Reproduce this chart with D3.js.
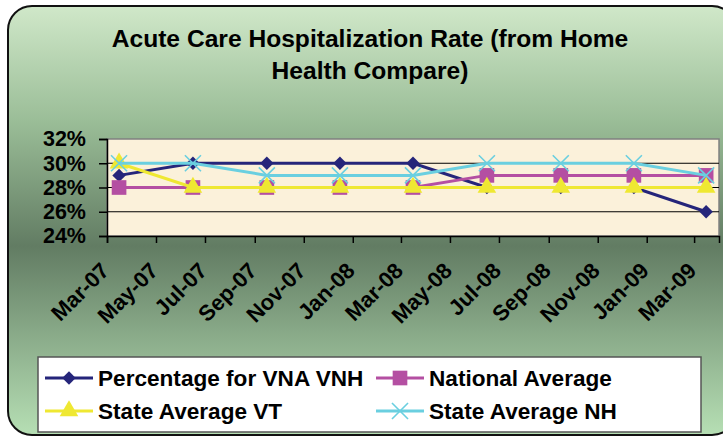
<!DOCTYPE html>
<html>
<head>
<meta charset="utf-8">
<script src="https://cdn.jsdelivr.net/npm/d3@7/dist/d3.min.js"></script>
<style>
  html, body { margin: 0; padding: 0; background: #fff; }
  svg { display: block; font-family: "Liberation Sans", Arial, sans-serif; }
</style>
</head>
<body>
<svg id="chart" width="723" height="438"></svg>
<script>
// quarterly readings, plotted mid-month on a date axis
const dates = ['2007-03-16', '2007-06-16', '2007-09-16', '2007-12-16', '2008-03-16',
               '2008-06-16', '2008-09-16', '2008-12-16', '2009-03-16'];
const vnaVnh = [29, 30, 30, 30, 30, 28, 28, 28, 26];
const nationalAvg = [28, 28, 28, 28, 28, 29, 29, 29, 29];
const stateVT = [30, 28, 28, 28, 28, 28, 28, 28, 28];
const stateNH = [30, 30, 29, 29, 29, 30, 30, 30, 29];
const yTicks = [24, 26, 28, 30, 32];
const titleLines = ['Acute Care Hospitalization Rate (from Home', 'Health Compare)'];

const series = [
  { name: 'Percentage for VNA VNH', values: vnaVnh, color: '#25257a', marker: 'diamond' },
  { name: 'National Average', values: nationalAvg, color: '#b44fa2', marker: 'square' },
  { name: 'State Average VT', values: stateVT, color: '#efe832', marker: 'triangle' },
  { name: 'State Average NH', values: stateNH, color: '#6acfe0', marker: 'cross' },
];

const parse = d3.timeParse('%Y-%m-%d');
const width = 723, height = 438;
const margin = { top: 139, right: 4, bottom: 202, left: 107 };

const svg = d3.select('#chart');

// background
const defs = svg.append('defs');
const grad = defs.append('linearGradient')
  .attr('id', 'bg')
  .attr('x1', 0).attr('y1', 0).attr('x2', 0).attr('y2', 1);
grad.append('stop').attr('offset', '0%').attr('stop-color', '#d0e8c9');
grad.append('stop').attr('offset', '27%').attr('stop-color', '#9abd97');
grad.append('stop').attr('offset', '56%').attr('stop-color', '#627c63');
grad.append('stop').attr('offset', '100%').attr('stop-color', '#b6dfb4');

svg.append('rect')
  .attr('x', 8).attr('y', 6)
  .attr('width', 728).attr('height', 429)
  .attr('rx', 24)
  .attr('fill', 'url(#bg)')
  .attr('stroke', '#111')
  .attr('stroke-width', 2);

// title
svg.append('g')
  .selectAll('text')
  .data(titleLines)
  .join('text')
  .attr('x', 370)
  .attr('y', (d, i) => 47 + i * 32)
  .attr('text-anchor', 'middle')
  .style('font-size', '24.6px')
  .style('font-weight', 'bold')
  .attr('fill', '#000')
  .text(d => d);

const x = d3.scaleTime()
  .domain([parse('2007-03-01'), parse('2009-04-01')])
  .range([margin.left, width - margin.right]);
const y = d3.scaleLinear()
  .domain([24, 32])
  .range([height - margin.bottom, margin.top]);

// plot area
svg.append('rect')
  .attr('x', margin.left).attr('y', margin.top)
  .attr('width', x.range()[1] - margin.left)
  .attr('height', y(24) - margin.top)
  .attr('fill', '#fbf1da')
  .attr('stroke', '#808080')
  .attr('stroke-width', 1.5);

// gridlines
svg.append('g')
  .selectAll('line')
  .data(yTicks.filter(t => t > 24 && t < 32))
  .join('line')
  .attr('x1', margin.left).attr('x2', x.range()[1])
  .attr('y1', d => y(d)).attr('y2', d => y(d))
  .attr('stroke', '#000')
  .attr('stroke-width', 1);

// axes
const yAxis = svg.append('g')
  .attr('transform', `translate(${margin.left},0)`)
  .call(d3.axisLeft(y).tickValues(yTicks).tickSize(8).tickPadding(13)
    .tickFormat(d => d + '%'));
yAxis.select('.domain').attr('stroke', '#000').attr('stroke-width', 1.5);
yAxis.selectAll('.tick line').attr('stroke', '#000').attr('stroke-width', 1.5);
yAxis.selectAll('.tick text')
  .style('font-size', '21.5px').style('font-weight', 'bold')
  .attr('fill', '#000').attr('font-family', null);

const xAxis = svg.append('g')
  .attr('transform', `translate(0,${y(24)})`)
  .call(d3.axisBottom(x)
    .ticks(d3.timeMonth.every(2))
    .tickSize(7)
    .tickFormat(d3.timeFormat('%b-%y')));
xAxis.select('.domain').attr('stroke', '#000').attr('stroke-width', 1.5);
xAxis.selectAll('.tick line').attr('stroke', '#000').attr('stroke-width', 1.5);
xAxis.selectAll('.tick text')
  .style('font-size', '22px').style('font-weight', 'bold')
  .attr('fill', '#000').attr('font-family', null)
  .attr('text-anchor', 'end')
  .attr('dy', null)
  .attr('y', 0)
  .attr('transform', 'translate(3,36) rotate(-45)');

// markers (diamond = square turned 45deg, like Excel's)
const symbolFor = {
  diamond: d3.symbol().type(d3.symbolSquare).size(90),
  square: d3.symbol().type(d3.symbolSquare).size(215),
  triangle: d3.symbol().type(d3.symbolTriangle).size(150),
  cross: d3.symbol().type(d3.symbolX).size(170),
};

function drawMarker(sel, s) {
  const p = sel.append('path').attr('d', symbolFor[s.marker]());
  if (s.marker === 'cross') {
    p.attr('fill', 'none').attr('stroke', s.color).attr('stroke-width', 1.6);
  } else {
    p.attr('fill', s.color);
  }
  if (s.marker === 'diamond') p.attr('transform', 'rotate(45)');
  return p;
}

const line = d3.line()
  .x(d => x(d.date))
  .y(d => y(d.value));

series.forEach(s => {
  const pts = s.values.map((v, i) => ({ date: parse(dates[i]), value: v }));
  const g = svg.append('g');
  g.append('path')
    .datum(pts)
    .attr('d', line)
    .attr('fill', 'none')
    .attr('stroke', s.color)
    .attr('stroke-width', 3);
  pts.forEach(p => {
    const m = g.append('g').attr('transform', `translate(${x(p.date)},${y(p.value)})`);
    drawMarker(m, s);
  });
});

// legend
const legend = svg.append('g');
legend.append('rect')
  .attr('x', 38).attr('y', 357)
  .attr('width', 663).attr('height', 75)
  .attr('fill', '#fff')
  .attr('stroke', '#555')
  .attr('stroke-width', 1.5);

const legendPos = [
  { x: 45, y: 378 }, { x: 376, y: 378 },
  { x: 45, y: 411 }, { x: 376, y: 411 },
];
series.forEach((s, i) => {
  const g = legend.append('g')
    .attr('transform', `translate(${legendPos[i].x},${legendPos[i].y})`);
  g.append('line')
    .attr('x1', 0).attr('x2', 48)
    .attr('stroke', s.color).attr('stroke-width', 3);
  drawMarker(g.append('g').attr('transform', 'translate(24,0)'), s);
  g.append('text')
    .attr('x', 53).attr('y', 8)
    .style('font-size', '22.6px').style('font-weight', 'bold')
    .attr('fill', '#000')
    .text(s.name);
});
</script>
</body>
</html>
